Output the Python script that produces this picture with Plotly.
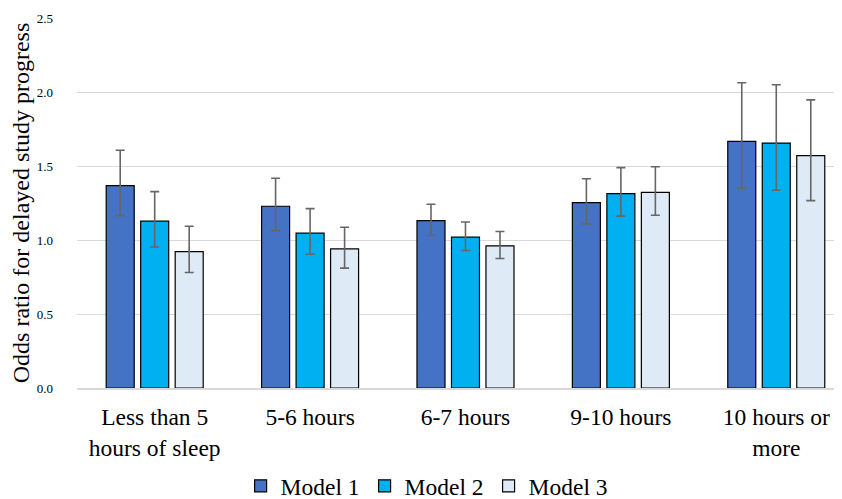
import plotly.graph_objects as go

categories = ["Less than 5<br>hours of sleep", "5-6 hours", "6-7 hours", "9-10 hours", "10 hours or<br>more"]
series_names = ["Model 1", "Model 2", "Model 3"]
model1 = [1.367, 1.228, 1.131, 1.252, 1.667]
model1_hi = [1.606, 1.417, 1.242, 1.414, 2.062]
model1_lo = [1.165, 1.063, 1.030, 1.109, 1.350]
model2 = [1.127, 1.046, 1.019, 1.313, 1.655]
model2_hi = [1.327, 1.212, 1.122, 1.489, 2.049]
model2_lo = [0.953, 0.904, 0.929, 1.161, 1.336]
model3 = [0.922, 0.940, 0.960, 1.322, 1.570]
model3_hi = [1.093, 1.086, 1.057, 1.495, 1.947]
model3_lo = [0.780, 0.810, 0.875, 1.167, 1.266]
colors = ["#4472C4", "#00B0F0", "#DEEBF7"]

FONT = "Liberation Serif"
fig = go.Figure()
for name, vals, hi, lo, col in zip(series_names,
                                   [model1, model2, model3],
                                   [model1_hi, model2_hi, model3_hi],
                                   [model1_lo, model2_lo, model3_lo],
                                   colors):
    fig.add_trace(go.Bar(
        name=name, x=categories, y=vals,
        marker=dict(color=col, line=dict(color="#000000", width=1.2)),
        error_y=dict(type="data", symmetric=False,
                     array=[h - v for h, v in zip(hi, vals)],
                     arrayminus=[v - l for v, l in zip(vals, lo)],
                     color="#666666", thickness=1.6, width=4.5),
    ))

fig.update_layout(
    width=842, height=499,
    margin=dict(l=68.5, r=8, t=9.7, b=118.7, autoexpand=False),
    paper_bgcolor="white", plot_bgcolor="white",
    barmode="group", bargap=0.334, bargroupgap=0.188,
    font=dict(family=FONT, color="#000000"),
    showlegend=True,
    legend=dict(orientation="h", x=0.457, xanchor="center", y=-0.265, yanchor="middle",
                font=dict(size=23.5, family=FONT), traceorder="normal"),
)
fig.update_xaxes(
    type="category", range=[-0.5, 4.423], automargin=False,
    showgrid=False, showline=True, linecolor="#d9d9d9", linewidth=2,
    ticks="", tickfont=dict(size=23.5, family=FONT, color="#000000"),
    ticklabelstandoff=7,
)
fig.update_yaxes(
    range=[0, 2.5], dtick=0.5, tickformat=".1f", automargin=False,
    showgrid=True, gridcolor="#d9d9d9", gridwidth=1,
    showline=False, zeroline=False, ticks="",
    tickfont=dict(size=13, family=FONT, color="#000000"),
    ticklabelstandoff=23,
    title=dict(text="Odds ratio for delayed study progress",
               font=dict(size=24, family=FONT, color="#000000"), standoff=5),
)
fig.write_html("out.html")
